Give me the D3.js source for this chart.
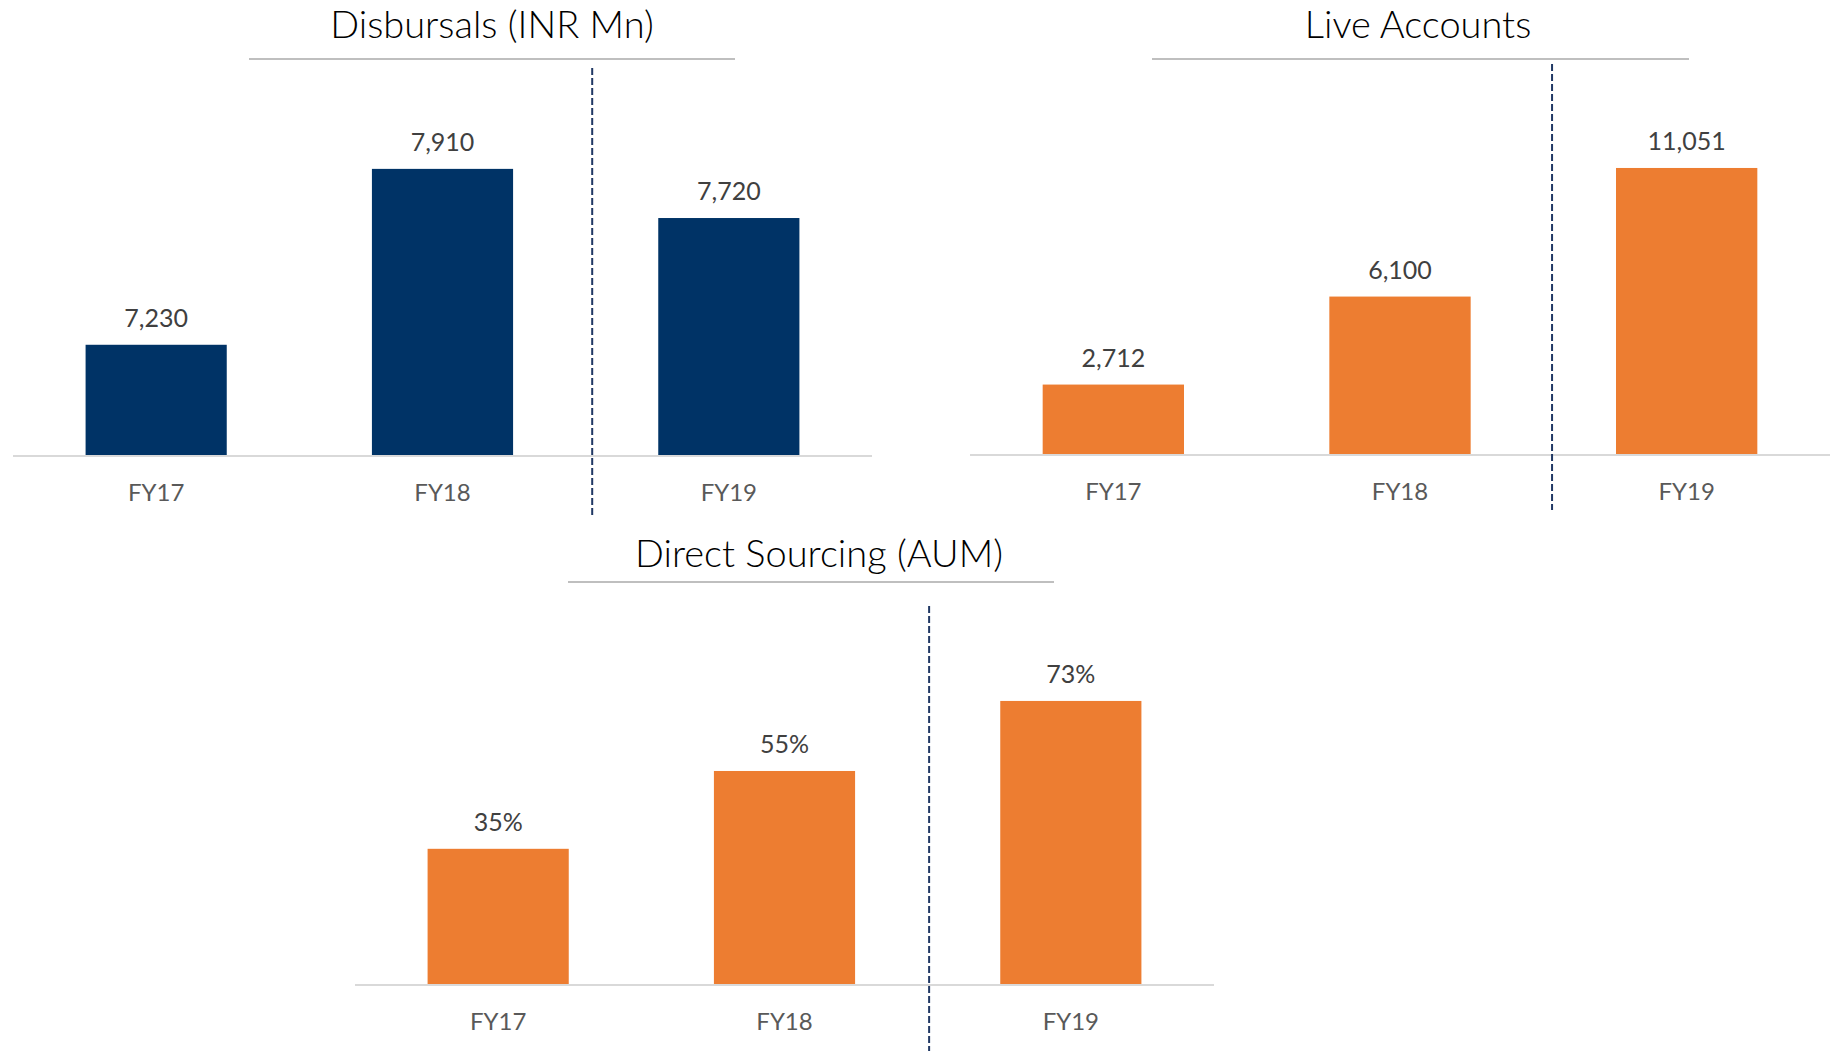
<!DOCTYPE html>
<html lang="en">
<head>
    <meta charset="UTF-8">
    <title>Disbursals, Live Accounts, Direct Sourcing</title>
    <script src="https://d3js.org/d3.v7.min.js"></script>
    <style>
        html, body { margin: 0; padding: 0; background: #ffffff; }
        svg { display: block; font-family: Lato, "Open Sans", sans-serif; }
    </style>
</head>
<body>
<div id="chart"></div>
<script>
    // data
    const categories = ["FY17", "FY18", "FY19"];
    const disbursals = [7230, 7910, 7720];
    const liveAccounts = [2712, 6100, 11051];
    const directSourcing = [0.35, 0.55, 0.73];

    const width = 1836;
    const height = 1051;

    const svg = d3.select('#chart')
        .append('svg')
        .attr('width', width)
        .attr('height', height);

    // one small bar panel
    function drawPanel(opts) {
        const g = svg.append('g');

        const x = d3.scaleBand()
            .domain(categories)
            .range(opts.xRange)
            .paddingInner(0.507)
            .paddingOuter(0.2535);

        const y = d3.scaleLinear()
            .domain(opts.yDomain)
            .range([opts.base, opts.top]);

        // title + underline
        g.append('text')
            .attr('x', opts.titleX)
            .attr('y', opts.titleY)
            .attr('text-anchor', 'middle')
            .attr('font-size', 38)
            .attr('font-weight', 300)
            .attr('fill', '#000000')
            .text(opts.title);

        g.append('line')
            .attr('x1', opts.rule[0])
            .attr('x2', opts.rule[1])
            .attr('y1', opts.ruleY)
            .attr('y2', opts.ruleY)
            .attr('stroke', '#BFBFBF')
            .attr('stroke-width', 2);

        // bars
        g.append('g')
            .selectAll('rect')
            .data(opts.values)
            .enter().append('rect')
            .attr('x', (d, i) => x(categories[i]))
            .attr('width', x.bandwidth())
            .attr('y', d => y(d))
            .attr('height', d => opts.base - y(d))
            .attr('fill', opts.color);

        // value labels
        g.append('g')
            .selectAll('text')
            .data(opts.values)
            .enter().append('text')
            .attr('x', (d, i) => x(categories[i]) + x.bandwidth() / 2)
            .attr('y', d => y(d) - 18)
            .attr('text-anchor', 'middle')
            .attr('font-size', 25)
            .attr('fill', '#404040')
            .text(opts.format);

        // baseline
        g.append('line')
            .attr('x1', opts.xRange[0])
            .attr('x2', opts.xRange[1])
            .attr('y1', opts.base)
            .attr('y2', opts.base)
            .attr('stroke', '#D9D9D9')
            .attr('stroke-width', 2);

        // category axis
        const axis = g.append('g')
            .attr('transform', `translate(0,${opts.base})`)
            .call(d3.axisBottom(x).tickSize(0).tickPadding(28));
        axis.select('.domain').remove();
        axis.selectAll('text')
            .attr('font-family', 'Lato, "Open Sans", sans-serif')
            .attr('font-size', 24)
            .attr('fill', '#595959');

        // dashed separator before FY19
        const gap = x.step() - x.bandwidth();
        const sepX = x('FY19') - opts.sepFrac * gap;
        g.append('line')
            .attr('x1', sepX)
            .attr('x2', sepX)
            .attr('y1', opts.sep[0])
            .attr('y2', opts.sep[1])
            .attr('stroke', '#203864')
            .attr('stroke-width', 2)
            .attr('stroke-dasharray', '7,3');
    }

    drawPanel({
        title: 'Disbursals (INR Mn)',
        titleX: 492, titleY: 38,
        rule: [249, 735], ruleY: 59,
        xRange: [13, 872],
        base: 456, top: 68,
        yDomain: [6800, 8300],
        values: disbursals,
        color: '#003366',
        format: d3.format(','),
        sep: [68, 516], sepFrac: 0.455
    });

    drawPanel({
        title: 'Live Accounts',
        titleX: 1418, titleY: 38,
        rule: [1152, 1689], ruleY: 59,
        xRange: [970, 1830],
        base: 455, top: 68,
        yDomain: [0, 14900],
        values: liveAccounts,
        color: '#ED7D31',
        format: d3.format(','),
        sep: [64, 510], sepFrac: 0.44
    });

    drawPanel({
        title: 'Direct Sourcing (AUM)',
        titleX: 819, titleY: 567,
        rule: [568, 1054], ruleY: 582,
        xRange: [355, 1214],
        base: 985, top: 606,
        yDomain: [0, 0.974],
        values: directSourcing,
        color: '#ED7D31',
        format: d3.format('.0%'),
        sep: [606, 1051], sepFrac: 0.49
    });
</script>
</body>
</html>
